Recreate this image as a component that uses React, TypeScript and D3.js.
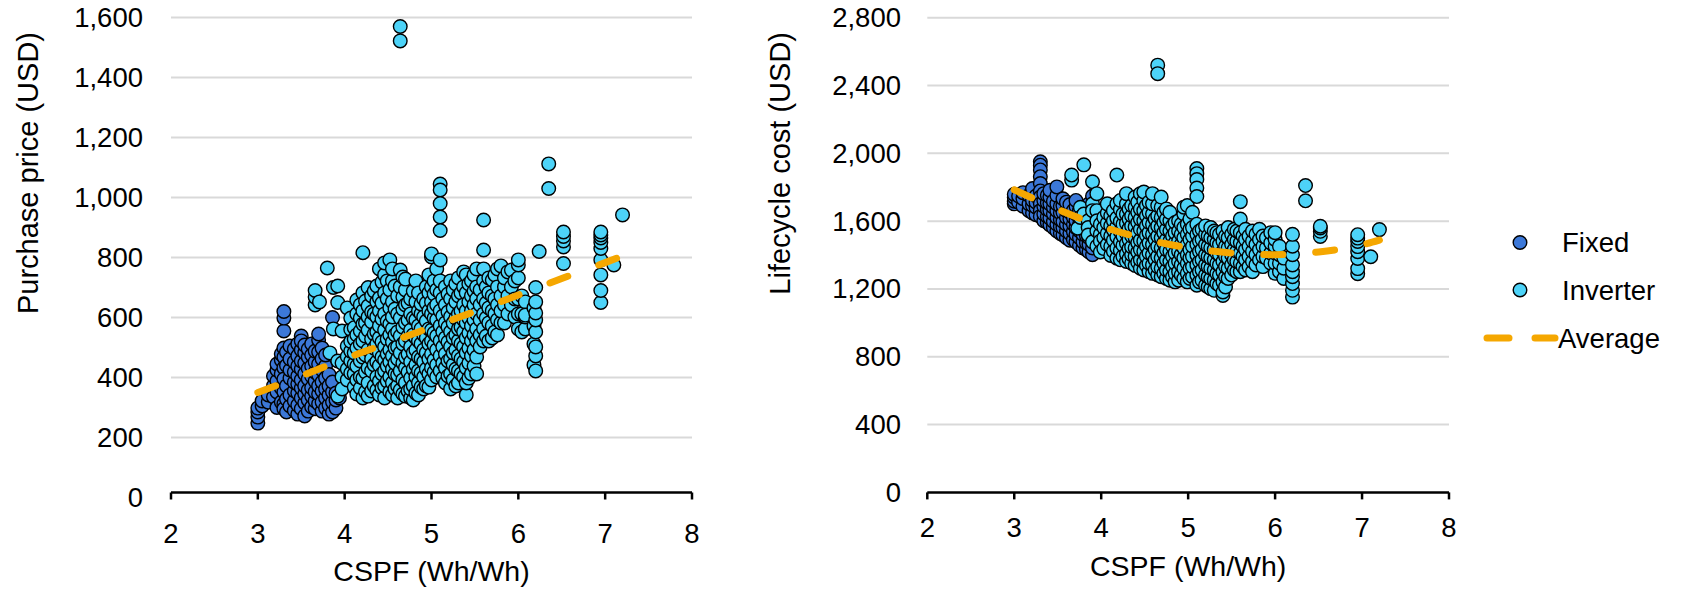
import React from "react";
import * as d3 from "d3";

const FONT = '"Liberation Sans", Arial, sans-serif';
const FIXED_COLOR = "#3C78D8";
const INVERTER_COLOR = "#4DD3F8";
const AVG_COLOR = "#F5A700";

const cspfTicks = [2, 3, 4, 5, 6, 7, 8];
const priceTicks = [0, 200, 400, 600, 800, 1000, 1200, 1400, 1600];
const lccTicks = [0, 400, 800, 1200, 1600, 2000, 2400, 2800];

// each entry: [CSPF, USD values of the models at that CSPF]
const fixedPriceCols: [number, number[]][] = [
  [3.0, [248, 268, 285, 298]],
  [3.05, [305, 322]],
  [3.12, [318, 342]],
  [3.18, [335, 372, 405]],
  [3.22, [300, 352, 388, 425, 445]],
  [3.27, [318, 365, 412, 458, 478]],
  [3.3, [555, 598, 620, 498, 468, 432, 395, 352, 312, 296]],
  [3.33, [285, 328, 372, 440, 485]],
  [3.37, [305, 342, 398, 425, 462, 505]],
  [3.42, [290, 322, 356, 384, 418, 452, 495]],
  [3.46, [278, 308, 348, 378, 405, 438, 472, 512]],
  [3.5, [296, 332, 365, 392, 428, 455, 492, 538, 522]],
  [3.54, [272, 315, 345, 372, 412, 448, 482, 508]],
  [3.58, [288, 325, 358, 395, 430, 468, 495]],
  [3.62, [302, 338, 366, 404, 438, 475, 512]],
  [3.66, [296, 322, 352, 388, 418, 452, 488]],
  [3.7, [312, 345, 372, 408, 445, 485, 525, 545]],
  [3.74, [288, 318, 355, 385, 425, 462, 498]],
  [3.78, [298, 332, 362, 398, 438, 475]],
  [3.82, [278, 308, 342, 372, 410]],
  [3.86, [285, 318, 352, 385, 600]],
  [3.9, [298, 325, 348]],
  [3.94, [332]],
];

const inverterPriceCols: [number, number[]][] = [
  [3.66, [642, 668, 690]],
  [3.71, [652]],
  [3.8, [765]],
  [3.83, [482]],
  [3.87, [700, 562]],
  [3.92, [705, 650, 338, 455]],
  [3.97, [555, 448, 402, 362]],
  [4.03, [392, 428, 470, 505, 632]],
  [4.07, [415, 455, 488, 520, 560, 598]],
  [4.11, [368, 412, 445, 482, 528, 566]],
  [4.14, [345, 392, 438, 498, 542, 612, 658]],
  [4.18, [365, 402, 455, 512, 555, 598, 642]],
  [4.21, [816, 332, 398, 468, 522, 578, 622, 682]],
  [4.24, [352, 418, 475, 538, 582, 655]],
  [4.27, [338, 382, 432, 492, 558, 602, 638, 700]],
  [4.31, [355, 422, 462, 528, 585, 618, 672]],
  [4.34, [372, 442, 498, 545, 612, 688]],
  [4.37, [358, 402, 452, 512, 552, 602, 652, 705]],
  [4.4, [342, 388, 440, 482, 532, 572, 622, 665, 762]],
  [4.43, [365, 412, 468, 518, 595, 648, 718]],
  [4.46, [332, 372, 422, 458, 502, 558, 612, 682, 742, 782]],
  [4.49, [388, 438, 478, 528, 588, 662, 722]],
  [4.52, [352, 402, 452, 492, 542, 578, 632, 692, 792]],
  [4.55, [342, 382, 428, 472, 518, 562, 602, 652, 722, 762]],
  [4.58, [362, 412, 448, 498, 542, 628, 705]],
  [4.61, [332, 372, 408, 462, 502, 552, 612, 672]],
  [4.64, [1522, 1570, 358, 422, 482, 538, 598, 702, 758]],
  [4.67, [345, 392, 448, 512, 568, 628, 668, 735]],
  [4.7, [338, 382, 432, 468, 522, 582, 642, 692, 728]],
  [4.73, [355, 418, 478, 538, 592, 648]],
  [4.76, [332, 362, 398, 452, 502, 558, 612, 662]],
  [4.79, [325, 372, 428, 482, 542, 598, 688]],
  [4.82, [348, 402, 442, 492, 532, 592, 652, 722]],
  [4.85, [342, 382, 422, 468, 522, 572, 622, 682]],
  [4.88, [368, 415, 462, 512, 562, 612, 645]],
  [4.91, [362, 402, 452, 492, 542, 602, 662]],
  [4.94, [372, 428, 482, 532, 588, 648, 702]],
  [4.97, [368, 412, 462, 512, 562, 622, 682, 742]],
  [5.0, [392, 432, 478, 522, 558, 612, 652, 702, 802, 812]],
  [5.03, [418, 458, 508, 548, 598, 632, 678, 722]],
  [5.06, [402, 442, 492, 538, 592, 642, 692, 762]],
  [5.1, [1045, 1025, 980, 935, 890, 792, 422, 472, 522, 572, 622, 682, 722]],
  [5.13, [398, 448, 502, 552, 605, 662]],
  [5.16, [382, 432, 478, 532, 582, 642, 702]],
  [5.19, [405, 455, 518, 568, 618, 678]],
  [5.22, [362, 412, 462, 502, 552, 602, 662, 722]],
  [5.25, [392, 442, 482, 532, 582, 632, 692]],
  [5.28, [372, 428, 492, 542, 598, 652, 712]],
  [5.31, [382, 422, 472, 522, 562, 612, 672, 732]],
  [5.34, [412, 462, 512, 568, 622, 682]],
  [5.37, [402, 452, 502, 552, 592, 642, 702, 752]],
  [5.4, [342, 382, 432, 482, 532, 582, 622, 682, 742]],
  [5.43, [398, 448, 498, 548, 598, 652, 712]],
  [5.46, [412, 472, 522, 572, 622, 672, 722]],
  [5.49, [438, 492, 542, 592, 642, 688, 742]],
  [5.52, [412, 468, 522, 562, 612, 662, 702, 762]],
  [5.56, [502, 542, 592, 642, 692]],
  [5.6, [925, 825, 522, 562, 612, 662, 722, 762]],
  [5.63, [538, 598, 648, 702]],
  [5.66, [522, 582, 632, 682, 732]],
  [5.7, [532, 572, 622, 672, 725]],
  [5.73, [552, 612, 662, 742]],
  [5.76, [542, 592, 642, 702, 762]],
  [5.8, [582, 622, 672, 772]],
  [5.84, [582, 642, 702, 732]],
  [5.88, [612, 672, 752]],
  [5.92, [642, 702, 758]],
  [5.96, [602, 662, 722]],
  [6.0, [562, 612, 662, 732, 775, 792]],
  [6.04, [552, 612, 672]],
  [6.08, [562, 602, 652, 608]],
  [6.18, [442, 512, 572, 632]],
  [6.2, [422, 472, 502, 552, 592, 615, 652, 700]],
  [6.24, [820]],
  [6.35, [1112, 1030]],
  [6.52, [780, 835, 855, 870, 885]],
  [6.95, [650, 690, 742, 792, 830, 850, 865, 875, 885]],
  [7.1, [775]],
  [7.2, [942]],
];

const fixedLccCols: [number, number[]][] = [
  [3.0, [1702, 1718, 1741, 1758]],
  [3.05, [1712, 1748]],
  [3.1, [1688, 1733, 1768]],
  [3.17, [1662, 1702, 1752]],
  [3.21, [1648, 1692, 1722, 1768, 1792]],
  [3.25, [1638, 1682, 1712, 1748]],
  [3.3, [1950, 1930, 1902, 1862, 1822, 1778, 1742, 1702, 1662, 1628]],
  [3.34, [1602, 1642, 1688, 1722, 1762]],
  [3.38, [1592, 1628, 1668, 1708, 1752]],
  [3.41, [1578, 1618, 1662, 1702, 1742, 1782]],
  [3.45, [1562, 1598, 1642, 1682, 1718]],
  [3.49, [1542, 1582, 1622, 1662, 1702, 1752, 1802]],
  [3.53, [1528, 1568, 1608, 1648, 1688]],
  [3.56, [1518, 1562, 1598, 1652, 1692, 1732]],
  [3.6, [1502, 1542, 1582, 1622, 1662, 1712]],
  [3.64, [1488, 1528, 1572, 1612, 1652, 1698]],
  [3.68, [1492, 1538, 1582, 1622, 1662]],
  [3.71, [1478, 1522, 1562, 1602, 1642, 1688, 1722]],
  [3.75, [1458, 1502, 1542, 1582, 1622, 1662]],
  [3.79, [1442, 1478, 1522, 1562, 1602, 1652]],
  [3.83, [1432, 1472, 1512, 1552, 1598]],
  [3.86, [1418, 1462, 1502, 1542, 1592, 1702]],
  [3.9, [1402, 1442, 1482, 1522, 1748]],
];

const inverterLccCols: [number, number[]][] = [
  [3.66, [1842, 1872]],
  [3.73, [1558]],
  [3.76, [1682, 1622]],
  [3.8, [1932, 1642]],
  [3.85, [1602, 1562, 1518]],
  [3.9, [1832, 1702, 1662, 1478]],
  [3.95, [1762, 1662, 1452, 1542, 1602]],
  [3.99, [1522, 1582, 1482, 1418]],
  [4.03, [1502, 1562, 1622, 1438]],
  [4.07, [1462, 1528, 1588, 1648, 1702]],
  [4.11, [1398, 1452, 1512, 1572, 1632]],
  [4.14, [1422, 1488, 1548, 1602, 1662]],
  [4.18, [1872, 1382, 1442, 1508, 1568, 1618, 1702]],
  [4.22, [1372, 1428, 1478, 1538, 1598, 1668, 1722]],
  [4.25, [1392, 1458, 1512, 1582, 1642]],
  [4.29, [1362, 1408, 1468, 1528, 1588, 1642, 1702, 1762]],
  [4.32, [1378, 1438, 1492, 1556, 1612, 1672]],
  [4.35, [1352, 1402, 1448, 1512, 1572, 1632, 1692]],
  [4.39, [1338, 1392, 1442, 1502, 1566, 1622, 1682, 1742]],
  [4.42, [1358, 1418, 1472, 1532, 1592, 1652, 1712]],
  [4.45, [1322, 1372, 1432, 1488, 1552, 1612, 1672, 1762]],
  [4.49, [1312, 1362, 1422, 1482, 1542, 1602, 1662, 1722, 1772]],
  [4.52, [1338, 1392, 1452, 1516, 1572, 1632, 1692]],
  [4.55, [1302, 1352, 1412, 1472, 1532, 1592, 1652, 1712]],
  [4.59, [1292, 1342, 1402, 1462, 1522, 1582, 1642, 1702, 1762]],
  [4.62, [1312, 1372, 1432, 1492, 1552, 1612]],
  [4.65, [2520, 2470, 1282, 1332, 1392, 1452, 1512, 1572, 1632, 1692]],
  [4.69, [1272, 1322, 1382, 1442, 1502, 1562, 1622, 1682, 1742]],
  [4.72, [1292, 1352, 1412, 1472, 1532, 1592, 1652]],
  [4.75, [1262, 1312, 1372, 1432, 1492, 1552, 1612, 1672]],
  [4.79, [1252, 1302, 1362, 1422, 1482, 1542, 1602, 1652]],
  [4.82, [1272, 1332, 1392, 1452, 1512, 1572]],
  [4.85, [1242, 1292, 1352, 1412, 1472, 1532, 1592]],
  [4.89, [1252, 1302, 1362, 1422, 1482, 1542, 1602]],
  [4.92, [1282, 1342, 1402, 1462, 1522, 1582]],
  [4.95, [1262, 1322, 1382, 1442, 1502, 1562, 1642, 1682]],
  [4.99, [1242, 1292, 1352, 1402, 1462, 1522, 1582, 1692]],
  [5.02, [1262, 1322, 1382, 1432, 1492, 1552, 1612]],
  [5.05, [1272, 1332, 1392, 1452, 1512, 1562, 1652]],
  [5.1, [1910, 1880, 1845, 1795, 1745, 1222, 1282, 1342, 1402, 1462, 1522, 1582]],
  [5.13, [1242, 1302, 1362, 1422, 1482, 1542]],
  [5.16, [1252, 1312, 1372, 1432, 1492, 1552]],
  [5.2, [1222, 1282, 1342, 1402, 1462, 1522, 1572]],
  [5.23, [1212, 1272, 1332, 1392, 1452, 1512]],
  [5.26, [1202, 1262, 1322, 1382, 1442, 1502, 1562]],
  [5.3, [1192, 1252, 1312, 1372, 1432, 1492, 1542]],
  [5.33, [1232, 1292, 1352, 1412, 1472, 1532]],
  [5.36, [1222, 1282, 1342, 1402, 1462, 1522]],
  [5.4, [1162, 1182, 1242, 1302, 1362, 1422, 1482, 1542]],
  [5.43, [1212, 1272, 1332, 1392, 1452, 1512]],
  [5.46, [1262, 1322, 1382, 1442, 1502, 1562]],
  [5.5, [1282, 1342, 1402, 1462, 1522]],
  [5.53, [1312, 1372, 1432, 1492, 1552]],
  [5.56, [1302, 1362, 1422, 1482, 1542]],
  [5.6, [1715, 1612, 1302, 1352, 1412, 1472, 1532]],
  [5.63, [1332, 1392, 1452, 1512]],
  [5.66, [1312, 1372, 1432, 1492, 1552]],
  [5.7, [1332, 1392, 1452, 1512]],
  [5.74, [1302, 1362, 1422, 1482, 1542]],
  [5.78, [1342, 1402, 1462, 1522]],
  [5.82, [1372, 1432, 1492, 1552]],
  [5.86, [1332, 1392, 1452, 1512]],
  [5.9, [1382, 1442, 1502]],
  [5.95, [1352, 1412, 1472, 1532]],
  [6.0, [1292, 1352, 1412, 1452, 1492, 1532]],
  [6.05, [1302, 1352, 1402, 1452]],
  [6.1, [1262, 1322, 1382]],
  [6.2, [1152, 1192, 1232, 1272, 1302, 1342, 1402, 1452, 1522]],
  [6.35, [1810, 1720]],
  [6.52, [1510, 1540, 1560, 1570]],
  [6.95, [1290, 1320, 1380, 1420, 1450, 1480, 1500, 1520]],
  [7.1, [1390]],
  [7.2, [1550]],
];

// average line, [CSPF, USD]
const avgPrice: [number, number][] = [
  [3.0, 350], [3.5, 405], [4.0, 462], [4.5, 515], [5.0, 568],
  [5.5, 620], [6.0, 675], [6.5, 730], [7.0, 783], [7.2, 805],
];
const avgLcc: [number, number][] = [
  [3.0, 1785], [3.5, 1670], [4.0, 1570], [4.5, 1495], [5.0, 1443],
  [5.5, 1412], [6.0, 1402], [6.5, 1418], [7.0, 1460], [7.2, 1488],
];

const flat = (cols: [number, number[]][]) =>
  cols.flatMap(([x, ys]) => ys.map((y) => [x, y] as [number, number]));

const fmt = d3.format(",");

type PanelProps = {
  fixed: [number, number][];
  inverter: [number, number][];
  avg: [number, number][];
  yTicks: number[];
  xRange: [number, number];
  yRange: [number, number];
  axisY: number;
  yLabelRight: number;
  xLabelBase: number;
  xTitleBase: number;
  yTitleX: number;
  yTitleTop: number;
  yTitle: string;
};

const Panel = (p: PanelProps) => {
  const x = d3.scaleLinear().domain([2, 8]).range(p.xRange);
  const y = d3
    .scaleLinear()
    .domain([0, p.yTicks[p.yTicks.length - 1]])
    .range(p.yRange);
  const line = d3
    .line<[number, number]>()
    .x((d) => x(d[0]))
    .y((d) => y(d[1]))
    .curve(d3.curveMonotoneX);

  return (
    <g fontFamily={FONT} fill="#000">
      {/* grid */}
      {p.yTicks
        .filter((t) => t > 0)
        .map((t) => (
          <line key={"g" + t} x1={p.xRange[0]} x2={p.xRange[1]} y1={y(t)} y2={y(t)} stroke="#D9D9D9" strokeWidth={2} />
        ))}
      {p.yTicks.map((t) => (
        <text key={"y" + t} x={p.yLabelRight} y={y(t)} textAnchor="end" dominantBaseline="central" fontSize={27.5}>
          {fmt(t)}
        </text>
      ))}
      {/* x axis */}
      <line x1={p.xRange[0]} x2={p.xRange[1]} y1={p.axisY} y2={p.axisY} stroke="#000" strokeWidth={2.5} />
      {cspfTicks.map((t) => (
        <g key={"x" + t}>
          <line x1={x(t)} x2={x(t)} y1={p.axisY} y2={p.axisY + 7} stroke="#000" strokeWidth={2.5} />
          <text x={x(t)} y={p.xLabelBase} textAnchor="middle" fontSize={27.5}>
            {t}
          </text>
        </g>
      ))}
      <text x={(p.xRange[0] + p.xRange[1]) / 2} y={p.xTitleBase} textAnchor="middle" fontSize={28.5}>
        CSPF (Wh/Wh)
      </text>
      <text transform={`translate(${p.yTitleX},${p.yTitleTop}) rotate(-90)`} textAnchor="end" fontSize={29}>
        {p.yTitle}
      </text>
      {/* points */}
      {p.fixed.map((d, i) => (
        <circle key={"f" + i} cx={x(d[0])} cy={y(d[1])} r={6.8} fill={FIXED_COLOR} stroke="#000" strokeWidth={1.4} />
      ))}
      {p.inverter.map((d, i) => (
        <circle key={"i" + i} cx={x(d[0])} cy={y(d[1])} r={6.8} fill={INVERTER_COLOR} stroke="#000" strokeWidth={1.4} />
      ))}
      <path d={line(p.avg) || ""} fill="none" stroke={AVG_COLOR} strokeWidth={7} strokeLinecap="round" strokeDasharray="19 33" />
    </g>
  );
};

const Legend = () => (
  <g fontFamily={FONT} fontSize={27.5}>
    <circle cx={1520} cy={242.5} r={6.8} fill={FIXED_COLOR} stroke="#000" strokeWidth={1.4} />
    <text x={1562} y={251.5}>Fixed</text>
    <circle cx={1520} cy={290} r={6.8} fill={INVERTER_COLOR} stroke="#000" strokeWidth={1.4} />
    <text x={1562} y={300}>Inverter</text>
    <line x1={1487} x2={1555} y1={338} y2={338} stroke={AVG_COLOR} strokeWidth={7} strokeLinecap="round" strokeDasharray="22 26" />
    <text x={1558} y={348}>Average</text>
  </g>
);

export default function App() {
  return (
    <svg
      width={1685}
      height={591}
      style={{ position: "absolute", left: 0, top: 0, background: "#fff" }}
    >
      <Panel
        fixed={flat(fixedPriceCols)}
        inverter={flat(inverterPriceCols)}
        avg={avgPrice}
        yTicks={priceTicks}
        xRange={[171, 692]}
        yRange={[497.5, 17.5]}
        axisY={492.5}
        yLabelRight={143}
        xLabelBase={543}
        xTitleBase={581}
        yTitleX={38}
        yTitleTop={32}
        yTitle="Purchase price (USD)"
      />
      <Panel
        fixed={flat(fixedLccCols)}
        inverter={flat(inverterLccCols)}
        avg={avgLcc}
        yTicks={lccTicks}
        xRange={[927.3, 1449]}
        yRange={[492.4, 17.7]}
        axisY={492.4}
        yLabelRight={901}
        xLabelBase={537}
        xTitleBase={576}
        yTitleX={790}
        yTitleTop={32}
        yTitle="Lifecycle cost (USD)"
      />
      <Legend />
    </svg>
  );
}
